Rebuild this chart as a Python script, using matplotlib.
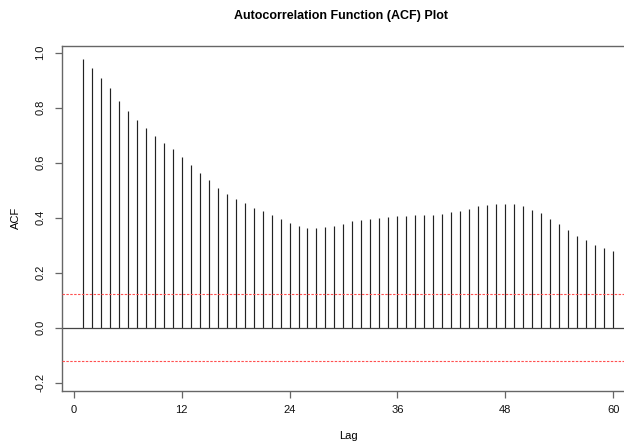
import matplotlib
matplotlib.use("Agg")
import matplotlib.pyplot as plt

plt.rcParams['font.family'] = ['Liberation Sans', 'DejaVu Sans']

lags = list(range(1, 61))
acf_values = [
    0.977, 0.943, 0.909, 0.870, 0.825, 0.788, 0.755, 0.725, 0.697, 0.673,
    0.650, 0.620, 0.592, 0.564, 0.536, 0.509, 0.487, 0.467, 0.452, 0.436,
    0.423, 0.409, 0.394, 0.380, 0.370, 0.364, 0.364, 0.366, 0.370, 0.378,
    0.387, 0.392, 0.395, 0.399, 0.403, 0.405, 0.406, 0.409, 0.410, 0.410,
    0.412, 0.420, 0.426, 0.432, 0.441, 0.446, 0.451, 0.451, 0.451, 0.444,
    0.429, 0.416, 0.395, 0.376, 0.354, 0.335, 0.318, 0.302, 0.290, 0.278,
]
conf_limit = 0.121
x_ticks = [0, 12, 24, 36, 48, 60]
y_ticks = [-0.2, 0.0, 0.2, 0.4, 0.6, 0.8, 1.0]
y_tick_labels = ["-0.2", "0.0", "0.2", "0.4", "0.6", "0.8", "1.0"]

W, H = 624, 443
fig = plt.figure(figsize=(W / 100, H / 100), dpi=100)
left_px, right_px, top_px, bot_px = 61.5, 634.4, 46.0, 390.7
ax = fig.add_axes([left_px / W, 1 - bot_px / H, (right_px - left_px) / W, (bot_px - top_px) / H])

ax.vlines(lags, 0, acf_values, colors='#222222', linewidth=0.85)
ax.axhline(0, color='#444444', linewidth=0.9)
red = '#ff5050'
ax.axhline(conf_limit, color=red, linestyle=(0, (2.2, 1.3)), linewidth=0.8, zorder=3)
ax.axhline(-conf_limit, color=red, linestyle=(0, (2.2, 1.3)), linewidth=0.8, zorder=3)

ax.set_xlim(-1.36, 62.36)
ax.set_ylim(-0.229, 1.024)

ax.set_xticks(x_ticks)
ax.set_xticklabels([str(t) for t in x_ticks])
ax.set_yticks(y_ticks)
ax.set_yticklabels(y_tick_labels, rotation=90, va='center')

for s in ax.spines.values():
    s.set_color('#666666')
    s.set_linewidth(1.0)

ax.tick_params(axis='both', length=5, width=0.9, color='#666666', labelsize=8, labelcolor='#111111')
ax.tick_params(axis='x', pad=5.5)
ax.tick_params(axis='y', pad=6.5)

ax.set_xlabel('Lag', fontsize=8, labelpad=11)
fig.text(16 / W, 1 - 218 / H, 'ACF', rotation=90, ha='center', va='center', fontsize=8)
fig.text(341 / W, 1 - 16 / H, 'Autocorrelation Function (ACF) Plot', ha='center', va='center',
         fontsize=9, fontweight='bold')

fig.savefig('out.png', dpi=100)
